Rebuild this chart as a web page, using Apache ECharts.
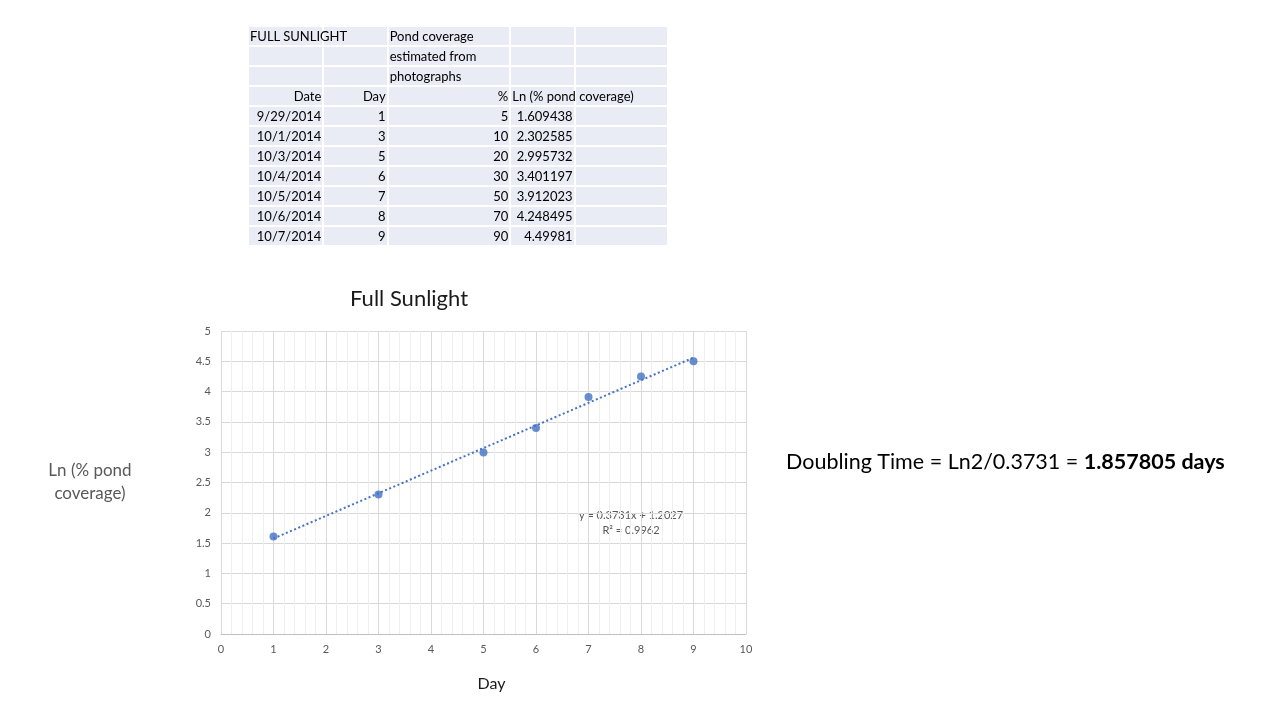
<!DOCTYPE html>
<html>
<head>
<meta charset="utf-8">
<script src="https://cdn.jsdelivr.net/npm/echarts@6/dist/echarts.min.js"></script>
<style>
  html, body { margin: 0; padding: 0; background: #fff; }
  #chart { position: absolute; left: 0; top: 0; width: 1280px; height: 720px; }
  #sheet { position: absolute; left: 247px; top: 25px; width: 422px; border-collapse: separate; border-spacing: 2px;
           table-layout: fixed; font-family: Lato, "Open Sans", sans-serif; font-size: 13px; color: #000; }
  #sheet td { background: #E9EBF5; height: 18px; padding: 0 1px; white-space: nowrap; overflow: visible; line-height: 18px; }
  #sheet td.r { text-align: right; }
</style>
</head>
<body>
<div id="chart"></div>
<table id="sheet">
  <colgroup>
    <col style="width:73px"><col style="width:62px"><col style="width:120px"><col style="width:62px"><col style="width:91px">
  </colgroup>
  <tbody id="sheetBody"></tbody>
</table>
<script>
// sheet values
var dates = ['9/29/2014', '10/1/2014', '10/3/2014', '10/4/2014', '10/5/2014', '10/6/2014', '10/7/2014'];
var days = [1, 3, 5, 6, 7, 8, 9];
var coverage = [5, 10, 20, 30, 50, 70, 90];
var lnCoverage = ['1.609438', '2.302585', '2.995732', '3.401197', '3.912023', '4.248495', '4.49981'];

// trendline as printed on the chart
var slope = 0.3731;
var intercept = 1.2027;
var rSquared = 0.9962;

// spreadsheet table
var body = document.getElementById('sheetBody');
var head = [
    ['FULL SUNLIGHT', '', 'Pond coverage', '', ''],
    ['', '', 'estimated from', '', ''],
    ['', '', 'photographs', '', '']
];
var html = '';
head.forEach(function (row) {
    html += '<tr>' + row.map(function (c) { return '<td>' + c + '</td>'; }).join('') + '</tr>';
});
html += '<tr><td class="r">Date</td><td class="r">Day</td><td class="r">%</td><td>Ln (% pond coverage)</td><td></td></tr>';
for (var i = 0; i < dates.length; i++) {
    html += '<tr><td class="r">' + dates[i] + '</td><td class="r">' + days[i] + '</td><td class="r">' +
        coverage[i] + '</td><td class="r">' + lnCoverage[i] + '</td><td></td></tr>';
}
body.innerHTML = html;

var points = days.map(function (d, i) { return [d, parseFloat(lnCoverage[i])]; });
var trendX = [days[0], days[days.length - 1]];
var trend = trendX.map(function (x) { return [x, slope * x + intercept]; });

var myChart = echarts.init(document.getElementById('chart'));
myChart.setOption({
    animation: false,
    textStyle: { fontFamily: 'Lato, "Open Sans", sans-serif' },
    title: {
        text: 'Full Sunlight',
        left: 345,
        top: 283,
        textStyle: { fontSize: 22, fontWeight: 'normal', color: '#1a1a1a' }
    },
    grid: { left: 221, right: 534, top: 331, bottom: 86 },
    xAxis: {
        type: 'value',
        min: 0, max: 10, interval: 1,
        name: 'Day',
        nameLocation: 'middle',
        nameGap: 42,
        nameTextStyle: { fontSize: 16, color: '#1a1a1a', padding: [0, 0, 0, 16] },
        axisLine: { lineStyle: { color: '#BFBFBF' } },
        axisTick: { show: false },
        axisLabel: { color: '#595959', fontSize: 11, margin: 10 },
        splitLine: { lineStyle: { color: '#D9D9D9' } },
        minorTick: { show: false, splitNumber: 5 },
        minorSplitLine: { show: true, lineStyle: { color: '#EFEFEF' } }
    },
    yAxis: {
        type: 'value',
        min: 0, max: 5, interval: 0.5,
        name: 'Ln (% pond\ncoverage)',
        nameLocation: 'middle',
        nameRotate: 0,
        nameGap: 131,
        nameTextStyle: { fontSize: 17, color: '#595959', align: 'center', lineHeight: 23, padding: [0, 0, 26, 0] },
        axisLine: { show: false },
        axisTick: { show: false },
        axisLabel: { color: '#595959', fontSize: 11, margin: 10 },
        splitLine: { lineStyle: { color: '#D9D9D9' } }
    },
    series: [
        {
            name: 'Ln (% pond coverage)',
            type: 'scatter',
            data: points,
            symbolSize: 8,
            itemStyle: { color: '#4472C4' },
            z: 3
        },
        {
            name: 'Linear trend',
            type: 'line',
            data: trend,
            showSymbol: false,
            lineStyle: { color: '#4472C4', width: 2, type: [2, 2.5] },
            z: 2
        }
    ],
    graphic: [
        {
            type: 'text',
            x: 631,
            y: 508,
            style: {
                text: 'y = ' + slope + 'x + ' + intercept + '\nR² = ' + rSquared,
                fill: '#595959',
                font: '11px Lato, "Open Sans", sans-serif',
                align: 'center',
                lineHeight: 15
            }
        },
        {
            type: 'text',
            left: 786,
            top: 451,
            style: {
                text: '{n|Doubling Time = Ln2/' + slope + ' = }{b|' + (Math.LN2 / slope).toFixed(6) + ' days}',
                rich: {
                    n: { fontSize: 21.5, fontFamily: 'Lato, "Open Sans", sans-serif', fill: '#000' },
                    b: { fontSize: 21.5, fontWeight: 'bold', fontFamily: 'Lato, "Open Sans", sans-serif', fill: '#000' }
                }
            }
        }
    ]
});
</script>
</body>
</html>
